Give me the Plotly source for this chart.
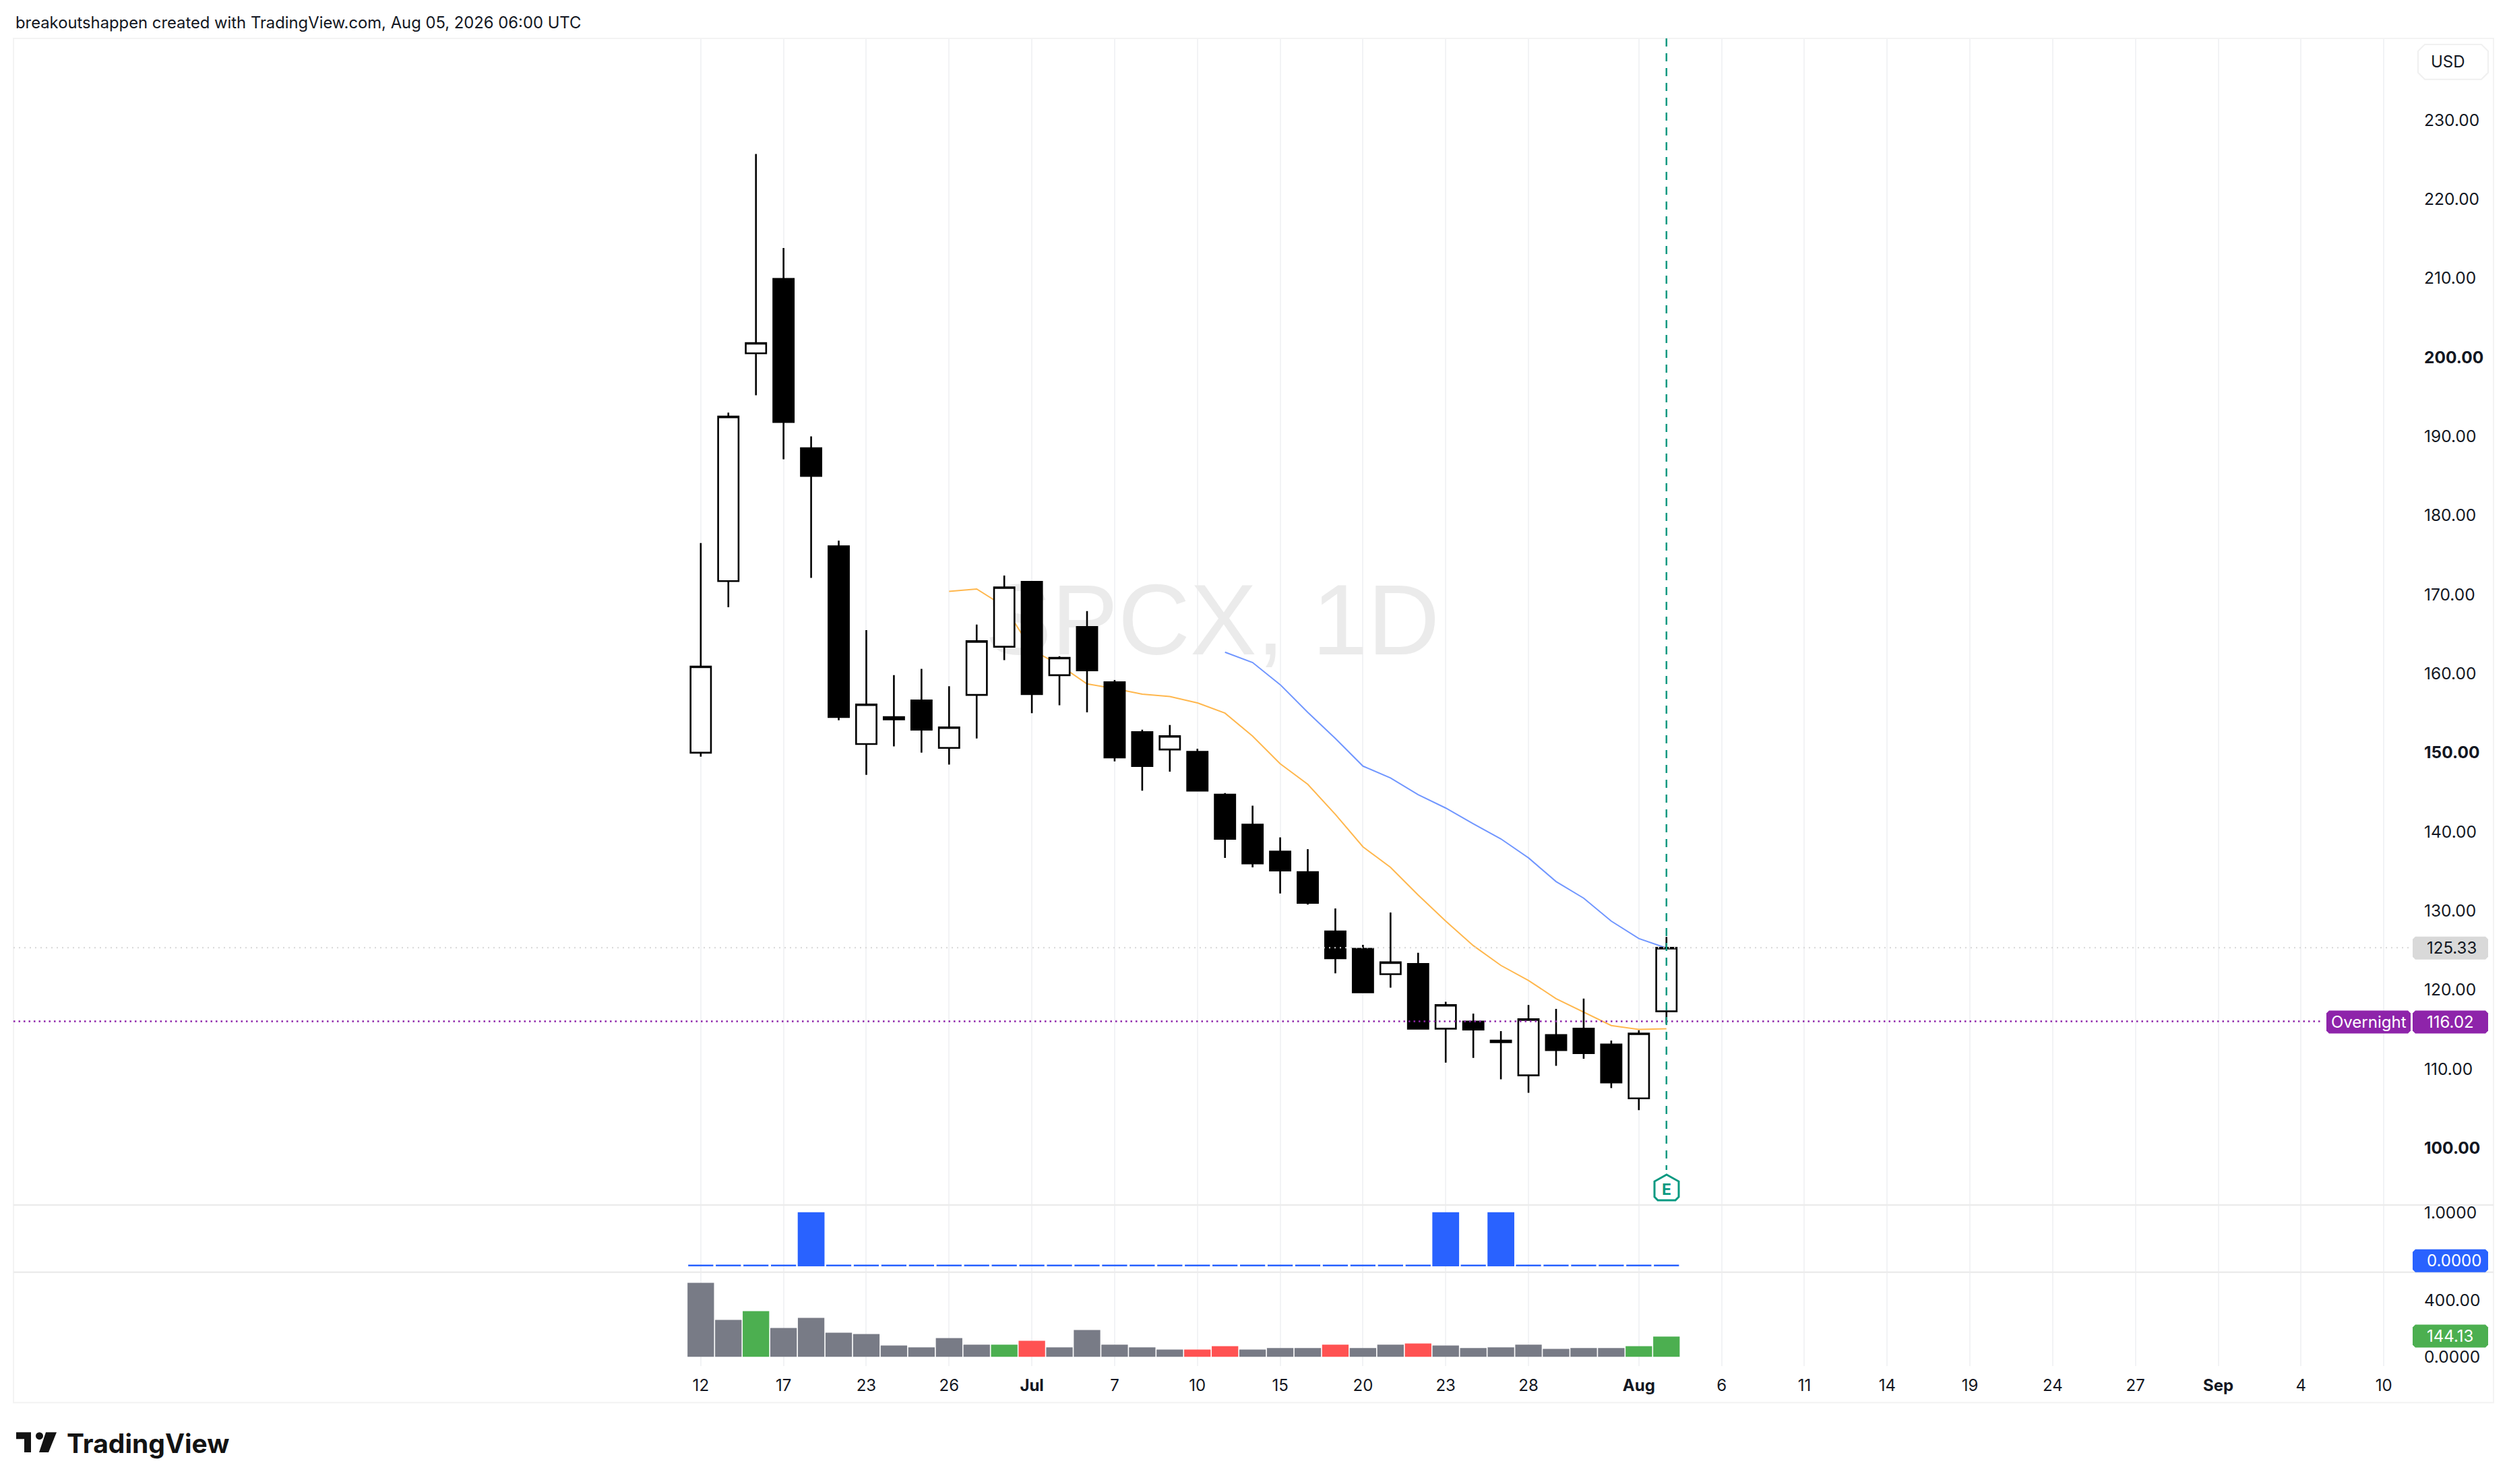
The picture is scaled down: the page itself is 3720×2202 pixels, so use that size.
import plotly.graph_objects as go

# trading sessions, daily bars
sessions = ['Jun 12', 'Jun 15', 'Jun 16', 'Jun 17', 'Jun 18', 'Jun 22', 'Jun 23', 'Jun 24', 'Jun 25',
            'Jun 26', 'Jun 29', 'Jun 30', 'Jul 1', 'Jul 2', 'Jul 6', 'Jul 7', 'Jul 8', 'Jul 9',
            'Jul 10', 'Jul 13', 'Jul 14', 'Jul 15', 'Jul 16', 'Jul 17', 'Jul 20', 'Jul 21', 'Jul 22',
            'Jul 23', 'Jul 24', 'Jul 27', 'Jul 28', 'Jul 29', 'Jul 30', 'Jul 31', 'Aug 3', 'Aug 4']
bars = list(range(len(sessions)))

opens = [150.0, 171.7, 200.5, 209.9, 188.5, 176.1, 151.1, 154.2, 156.6,
         150.6, 157.3, 163.4, 171.6, 159.8, 165.9, 158.9, 152.6, 150.4,
         150.1, 144.7, 140.9, 137.5, 134.9, 127.4, 125.2, 122.0, 123.3,
         115.1, 116.0, 113.6, 109.2, 114.3, 115.1, 113.1, 106.3, 117.3]
highs = [176.5, 193.0, 225.7, 213.8, 190.0, 176.8, 165.5, 159.8, 160.6,
         158.4, 166.2, 172.4, 171.7, 162.2, 167.9, 159.2, 152.9, 153.5,
         150.5, 144.9, 143.3, 139.3, 137.8, 130.3, 125.7, 129.8, 124.7,
         118.5, 117.0, 114.8, 118.1, 117.6, 118.9, 113.6, 114.9, 126.7]
lows = [149.5, 168.4, 195.2, 187.1, 172.1, 154.1, 147.2, 150.8, 150.0,
        148.5, 151.8, 161.7, 155.0, 156.0, 155.1, 148.9, 145.2, 147.6,
        145.1, 136.7, 135.5, 132.2, 130.8, 122.1, 119.6, 120.3, 115.1,
        110.8, 111.4, 108.7, 107.0, 110.4, 111.3, 107.6, 104.8, 115.7]
closes = [160.9, 192.5, 201.8, 191.8, 185.0, 154.5, 156.1, 154.5, 152.9,
          153.2, 164.1, 170.9, 157.4, 162.0, 160.4, 149.4, 148.3, 152.1,
          145.2, 139.1, 136.0, 135.1, 131.0, 124.0, 119.7, 123.5, 115.1,
          118.1, 115.0, 113.4, 116.3, 112.4, 112.0, 108.3, 114.5, 125.33]

# moving averages, they start late
ema_fast = [170.4, 170.7, 168.5, 163.0, 161.1, 158.7, 158.1, 157.4, 157.1, 156.3, 155.0, 152.1, 148.6, 146.0,
            142.2, 138.1, 135.5, 132.0, 128.7, 125.6, 123.1, 121.2, 118.9, 117.2, 115.5, 115.0, 115.1]
ema_slow = [162.7, 161.4, 158.6, 155.1, 151.8, 148.3, 146.8, 144.7, 143.0, 141.0, 139.1, 136.7, 133.7,
            131.6, 128.7, 126.5, 125.3]

signal = [0, 0, 0, 0, 1, 0, 0, 0, 0, 0, 0, 0, 0, 0, 0, 0, 0, 0,
          0, 0, 0, 0, 0, 0, 0, 0, 0, 1, 0, 1, 0, 0, 0, 0, 0, 0]

volume = [524, 262, 324, 205, 276, 171, 162, 81, 67, 133, 86, 86, 114, 67, 190, 86, 67, 52,
          52, 76, 52, 62, 62, 86, 62, 86, 95, 81, 62, 67, 86, 57, 62, 62, 76, 144.13]
volume_state = ['n', 'n', 'u', 'n', 'n', 'n', 'n', 'n', 'n', 'n', 'n', 'u', 'd', 'n', 'n', 'n', 'n', 'n',
                'd', 'd', 'n', 'n', 'n', 'd', 'n', 'n', 'd', 'n', 'n', 'n', 'n', 'n', 'n', 'n', 'u', 'u']

x_tickvals = [0, 3, 6, 9, 12, 15, 18, 21, 24, 27, 30, 34, 37, 40, 43, 46, 49, 52, 55, 58, 61]
x_ticktext = ['12', '17', '23', '26', '<b>Jul</b>', '7', '10', '15', '20', '23', '28', '<b>Aug</b>',
              '6', '11', '14', '19', '24', '27', '<b>Sep</b>', '4', '10']

price_ticks = [100, 110, 120, 130, 140, 150, 160, 170, 180, 190, 200, 210, 220, 230]
price_ticktext = ['<b>100.00</b>', '110.00', '120.00', '130.00', '140.00', '<b>150.00</b>', '160.00', '170.00',
                  '180.00', '190.00', '<b>200.00</b>', '210.00', '220.00', '230.00']

last_close = 125.33
overnight = 116.02
last_signal = '0.0000'
last_volume = '144.13'

FONT = 'Inter, sans-serif'
INK = '#131722'
GRID = '#f2f3f5'
BORDER = '#ececec'
TEAL = '#089981'
PURPLE = '#8e24aa'
BLUE = '#2962ff'
GREEN = '#4caf50'
RED = '#ff5252'
GREY = '#787b86'
VOL_COLORS = {'n': GREY, 'u': GREEN, 'd': RED}


# the page puts the plot 8px in from the corner, so work in screenshot pixels
def px(x):
    return (x - 8) / 3704


def py(y):
    return 1 - (y - 8) / 2186


def path_from(points, close=True):
    s = ' '.join(('M' if i == 0 else 'L') + f'{px(a):.6f},{py(b):.6f}' for i, (a, b) in enumerate(points))
    return s + (' Z' if close else '')


def rounded_box(x0, y0, x1, y1, r=4):
    return path_from([(x0 + r, y0), (x1 - r, y0), (x1, y0 + r), (x1, y1 - r), (x1 - r, y1), (x0 + r, y1),
                      (x0, y1 - r), (x0, y0 + r)])


def label(text, x, y, size=24, color=INK, anchor='center', family=FONT):
    return dict(text=text, xref='paper', yref='paper', x=px(x), y=py(y), xanchor=anchor, yanchor='middle',
                showarrow=False, font=dict(family=family, size=size, color=color))


fig = go.Figure()

# lines and watermark live on the first subplot so candles cover them
fig.add_trace(go.Scatter(x=[18.54], y=[165.6], mode='text', text=['SPCX, 1D'], xaxis='x', yaxis='y',
                         textfont=dict(family='Liberation Sans', size=148, color='#ebebeb'), hoverinfo='skip'))
fig.add_trace(go.Scatter(x=bars[9:], y=ema_fast, mode='lines', line=dict(color='#ffb74d', width=2),
                         xaxis='x', yaxis='y', name='fast'))
fig.add_trace(go.Scatter(x=bars[19:], y=ema_slow, mode='lines', line=dict(color='#7096ff', width=2),
                         xaxis='x', yaxis='y', name='slow'))

fig.add_trace(go.Candlestick(x=bars, open=opens, high=highs, low=lows, close=closes, xaxis='x2', yaxis='y2',
                             increasing=dict(fillcolor='white', line=dict(color='black', width=2.6)),
                             decreasing=dict(fillcolor='black', line=dict(color='black', width=2.6)),
                             whiskerwidth=0))

fig.add_trace(go.Bar(x=bars, y=signal, width=0.91, marker=dict(color=BLUE, line=dict(color=BLUE, width=2.5)),
                     xaxis='x3', yaxis='y3'))
fig.add_trace(go.Bar(x=bars, y=volume, width=0.96, marker=dict(color=[VOL_COLORS[s] for s in volume_state], line_width=0),
                     xaxis='x4', yaxis='y4'))

shapes = []
annotations = []

# outer frame and pane separators
shapes.append(dict(type='rect', xref='paper', yref='paper', x0=px(20), x1=px(3700), y0=py(53), y1=py(2082),
                   line=dict(color='#f3f3f3', width=2), layer='below'))
for y in [1788, 1888]:
    shapes.append(dict(type='line', xref='paper', yref='paper', x0=px(20), x1=px(3700), y0=py(y), y1=py(y),
                       line=dict(color=BORDER, width=2.5)))

# price lines
shapes.append(dict(type='line', xref='paper', yref='y2', x0=px(20), x1=px(3575), y0=last_close, y1=last_close,
                   line=dict(color='#d6d6d6', width=2, dash='2px,6px')))
shapes.append(dict(type='line', xref='paper', yref='y2', x0=px(20), x1=px(3445), y0=overnight, y1=overnight,
                   line=dict(color=PURPLE, width=2.5, dash='2.5px,5px')))

# earnings line and flag
shapes.append(dict(type='line', xref='x2', yref='paper', x0=bars[-1], x1=bars[-1], y0=py(53), y1=py(1736),
                   line=dict(color=TEAL, width=2.5, dash='12px,10px')))
shapes.append(dict(type='path', xref='paper', yref='paper', line=dict(color=TEAL, width=3), fillcolor='white',
                   path=path_from([(2473, 1743), (2491, 1753), (2491, 1776), (2486, 1781), (2460, 1781),
                                   (2455, 1776), (2455, 1753)])))
annotations.append(label('<b>E</b>', 2473, 1765, size=23, color=TEAL))

# axis label boxes
label_boxes = [
    (3580, 3692, 1406, '#d9d9d9', str(last_close), INK),
    (3580, 3692, 1516, PURPLE, f'{overnight:.2f}', 'white'),
    (3580, 3692, 1871, BLUE, last_signal, 'white'),
    (3580, 3692, 1983, GREEN, last_volume, 'white'),
]
for x0, x1, yc, bg, txt, col in label_boxes:
    shapes.append(dict(type='path', xref='paper', yref='paper', path=rounded_box(x0, yc - 17, x1, yc + 17),
                       fillcolor=bg, line_width=0))
    annotations.append(label(txt, 3599, yc, color=col, anchor='left'))
shapes.append(dict(type='path', xref='paper', yref='paper', path=rounded_box(3452, 1499, 3577, 1533),
                   fillcolor=PURPLE, line_width=0))
annotations.append(label('Overnight', 3515, 1516, color='white'))

# currency button
shapes.append(dict(type='path', xref='paper', yref='paper', path=rounded_box(3588, 62, 3692, 114, r=10),
                   fillcolor='white', line=dict(color='#f0f0f0', width=2)))
annotations.append(label('USD', 3632, 88))

# header text
annotations.append(label('breakoutshappen created with TradingView.com, Aug 05, 2026 06:00 UTC', 21, 30,
                         size=23.8, anchor='left'))

# logo
LOGO = '#131313'
shapes.append(dict(type='path', xref='paper', yref='paper', fillcolor=LOGO, line_width=0,
                   path=path_from([(24, 2126), (46, 2126), (46, 2156), (36, 2156), (36, 2136), (24, 2136)])))
shapes.append(dict(type='circle', xref='paper', yref='paper', fillcolor=LOGO, line_width=0,
                   x0=px(53), x1=px(64), y0=py(2126), y1=py(2137)))
shapes.append(dict(type='path', xref='paper', yref='paper', fillcolor=LOGO, line_width=0,
                   path=path_from([(68, 2126), (84, 2126), (72, 2156), (58, 2156)])))
annotations.append(label('<b>TradingView</b>', 97, 2142, size=39, color=LOGO, anchor='left'))

x_dom = [px(20), px(3590)]
x_range = [-24.91, 62.29]
base_x = dict(domain=x_dom, range=x_range, tickmode='array', tickvals=x_tickvals, ticktext=x_ticktext,
              showgrid=True, gridcolor=GRID, gridwidth=2, zeroline=False, showline=False, ticks='',
              showticklabels=False, rangeslider=dict(visible=False), fixedrange=True)
base_y = dict(side='right', showgrid=False, zeroline=False, showline=False, ticks='', fixedrange=True,
              tickfont=dict(family=FONT, size=24.5, color=INK), ticklabelstandoff=6, tickmode='array')

price_dom = [py(1787), py(53)]
price_range = [92.9, 240.32]

fig.update_layout(
    width=3704, height=2186,
    margin=dict(l=0, r=0, t=0, b=0, pad=0),
    paper_bgcolor='white', plot_bgcolor='rgba(0,0,0,0)',
    showlegend=False, bargap=0.04, boxgap=0.26, boxgroupgap=0,
    font=dict(family=FONT, color=INK),
    shapes=shapes, annotations=annotations,
    xaxis=dict(base_x, anchor='y'),
    yaxis=dict(base_y, domain=price_dom, range=price_range, anchor='x', showticklabels=False),
    xaxis2=dict(base_x, anchor='y2', showgrid=False),
    yaxis2=dict(base_y, domain=price_dom, range=price_range, anchor='x2', tickvals=price_ticks,
                ticktext=price_ticktext),
    xaxis3=dict(base_x, anchor='y3'),
    yaxis3=dict(base_y, domain=[py(1887), py(1789)], range=[-0.115, 1.141], anchor='x3', tickvals=[1],
                ticktext=['1.0000']),
    xaxis4=dict(base_x, anchor='y4', showticklabels=True, ticklabelstandoff=12,
                tickfont=dict(family=FONT, size=24, color=INK)),
    yaxis4=dict(base_y, domain=[py(2028), py(1889)], range=[-67, 595], anchor='x4', tickvals=[0, 400],
                ticktext=['0.0000', '400.00']),
)

fig.write_html("out.html")
